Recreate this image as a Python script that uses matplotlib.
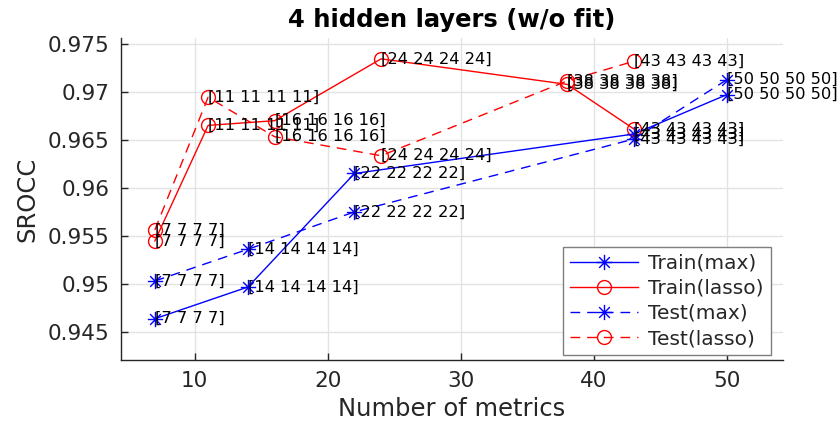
import matplotlib
matplotlib.use("Agg")
import matplotlib.pyplot as plt
from matplotlib.path import Path
from matplotlib.ticker import FuncFormatter

## SROCC vs number of metrics, 4 hidden layers

train_max_x = [7, 14, 22, 43, 50]
train_max_y = [0.94634, 0.94965, 0.96147, 0.96558, 0.96969]

train_lasso_x = [7, 11, 16, 24, 38, 43]
train_lasso_y = [0.95445, 0.96648, 0.96697, 0.97341, 0.97075, 0.96611]

test_max_x = [7, 14, 22, 43, 50]
test_max_y = [0.95027, 0.95358, 0.95747, 0.96506, 0.97125]

test_lasso_x = [7, 11, 16, 24, 38, 43]
test_lasso_y = [0.95560, 0.96941, 0.96530, 0.96332, 0.97112, 0.97316]

x_ticks = [10, 20, 30, 40, 50]
y_ticks = [0.945, 0.95, 0.955, 0.96, 0.965, 0.97, 0.975]


def asterisk():
    # matlab style '*' : plus with a smaller x on top
    d = 0.7
    verts = [(0, -1), (0, 1), (-1, 0), (1, 0),
             (-d, -d), (d, d), (-d, d), (d, -d)]
    codes = [Path.MOVETO, Path.LINETO] * 4
    return Path(verts, codes)


def main():
    fig = plt.figure(figsize=(8.4, 4.3), dpi=100)
    ax = fig.add_axes([0.144, 0.163, 0.788, 0.749])

    star = asterisk()
    dark = "#262626"

    series = [
        (train_max_x, train_max_y, "b", "-", star, "Train(max)"),
        (train_lasso_x, train_lasso_y, "r", "-", "o", "Train(lasso)"),
        (test_max_x, test_max_y, "b", "--", star, "Test(max)"),
        (test_lasso_x, test_lasso_y, "r", "--", "o", "Test(lasso)"),
    ]

    for xs, ys, c, ls, mk, name in series:
        ax.plot(xs, ys, color=c, linestyle=ls, linewidth=1.0, marker=mk,
                markersize=10 if mk == "o" else 11, markerfacecolor="none",
                markeredgecolor=c, markeredgewidth=1.0, label=name,
                dashes=(7, 5) if ls == "--" else (None, None), zorder=3)
        for x, y in zip(xs, ys):
            ax.text(x, y, "[%d %d %d %d]" % (x, x, x, x), fontsize=11.7,
                    ha="left", va="center", color="black", zorder=4)

    ax.set_xlim(4.45, 54.2)
    ax.set_ylim(0.94205, 0.9756)
    ax.set_xticks(x_ticks)
    ax.set_yticks(y_ticks)
    ax.yaxis.set_major_formatter(FuncFormatter(lambda v, p: "%g" % v))

    ax.grid(True, color="#e3e3e3", linewidth=1.0, zorder=0)
    ax.set_axisbelow(True)
    for s in ["top", "right"]:
        ax.spines[s].set_visible(False)
    for s in ["left", "bottom"]:
        ax.spines[s].set_color(dark)
        ax.spines[s].set_linewidth(1.0)

    ax.tick_params(direction="in", length=5, width=1, colors=dark,
                   labelsize=15.5, pad=8)

    ax.set_xlabel("Number of metrics", fontsize=17.5, color=dark, labelpad=4)
    ax.set_ylabel("SROCC", fontsize=17.5, color=dark, labelpad=6)
    ax.set_title("4 hidden layers (w/o fit)", fontsize=17.5, fontweight="bold",
                 pad=8)

    leg = ax.legend(loc="lower right", bbox_to_anchor=(0.982, 0.015),
                    fontsize=14.5, handlelength=3.4,
                    fancybox=False, framealpha=1, edgecolor="#7f7f7f",
                    borderaxespad=0, labelspacing=0.3, borderpad=0.35,
                    handletextpad=0.5)
    leg.get_frame().set_linewidth(1.0)
    for t in leg.get_texts():
        t.set_color(dark)

    fig.savefig("out.png", dpi=100)


if __name__ == "__main__":
    main()
